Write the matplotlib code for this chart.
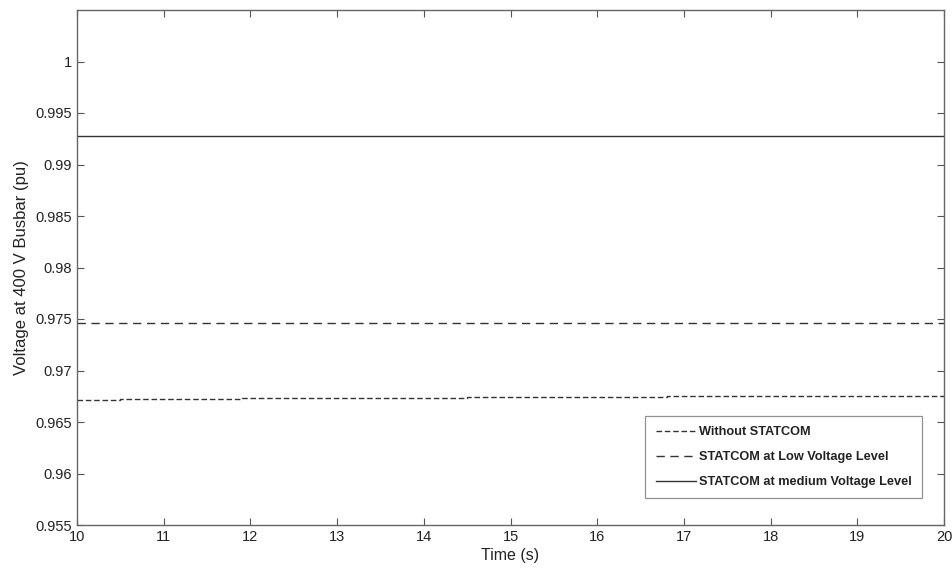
import matplotlib
matplotlib.use("Agg")
import matplotlib.pyplot as plt

plt.rcParams["font.family"] = ["Liberation Sans", "DejaVu Sans"]

# bus voltage traces (pu) over the simulated window
time_no_statcom = [10.0, 10.5, 11.0, 11.9, 13.0, 14.5, 16.8, 20.0]
v_no_statcom = [0.96715, 0.96720, 0.96726, 0.96730, 0.96732, 0.96738, 0.96752, 0.96758]

time_low = [10.0, 20.0]
v_low = [0.97462, 0.97462]

time_medium = [10.0, 20.0]
v_medium = [0.99272, 0.99272]

labels = ["Without STATCOM", "STATCOM at Low Voltage Level",
          "STATCOM at medium Voltage Level"]

x_ticks = list(range(10, 21))
y_ticks = [0.955, 0.96, 0.965, 0.97, 0.975, 0.98, 0.985, 0.99, 0.995, 1.0]
y_tick_labels = ["0.955", "0.96", "0.965", "0.97", "0.975", "0.98",
                 "0.985", "0.99", "0.995", "1"]

fig = plt.figure(figsize=(9.52, 5.75), dpi=100)
ax = fig.add_axes([77 / 952, 50 / 575, 867 / 952, 515 / 575])

line_col = "#333333"
ax.plot(time_no_statcom, v_no_statcom, color=line_col, lw=1.0,
        linestyle=(0, (4, 2)), drawstyle="steps-post", label=labels[0])
ax.plot(time_low, v_low, color=line_col, lw=1.0,
        linestyle=(0, (6, 4)), label=labels[1])
ax.plot(time_medium, v_medium, color=line_col, lw=1.0,
        linestyle="-", label=labels[2])

ax.set_xlim(10, 20)
ax.set_ylim(0.955, 1.005)
ax.set_xticks(x_ticks)
ax.set_yticks(y_ticks)
ax.set_yticklabels(y_tick_labels)

ax.tick_params(direction="in", top=True, right=True, length=5,
               width=0.8, colors="#555555", labelcolor="#222222",
               labelsize=10.5)
for sp in ax.spines.values():
    sp.set_color("#666666")
    sp.set_linewidth(1.0)

ax.set_xlabel("Time (s)", fontsize=11.5, color="#222222", labelpad=3)
ax.set_ylabel("Voltage at 400 V Busbar (pu)", fontsize=12,
              color="#222222", labelpad=5)

leg = ax.legend(loc="lower right", bbox_to_anchor=(0.9746, 0.052),
                prop={"weight": "bold", "size": 9.2},
                frameon=True, fancybox=False, handlelength=3.2,
                handletextpad=0.2, borderpad=0.8, labelspacing=1.0,
                borderaxespad=0.0)
leg.get_frame().set_edgecolor("#777777")
leg.get_frame().set_linewidth(0.9)
for t in leg.get_texts():
    t.set_color("#222222")

fig.savefig("out.png", dpi=100)
